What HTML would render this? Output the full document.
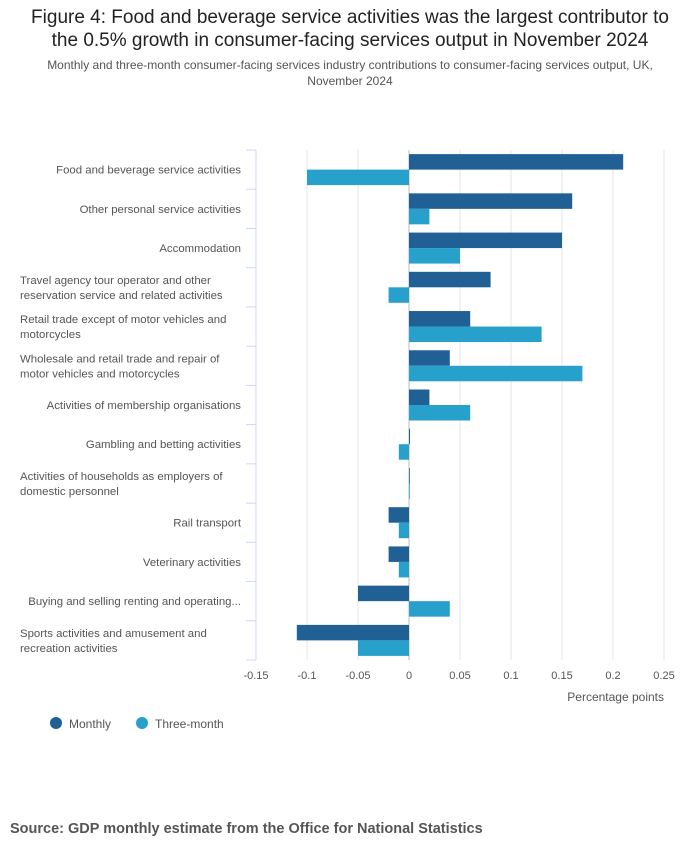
<!DOCTYPE html>
<html><head><meta charset="utf-8"><style>
body{margin:0;background:#fff;font-family:"Liberation Sans",sans-serif;}
#wrap{position:relative;width:700px;height:857px;overflow:hidden}
h1{position:absolute;top:6px;left:0;width:700px;text-align:center;font-size:19px;font-weight:normal;color:#222;margin:0;line-height:23px}
.sub{position:absolute;top:57px;left:0;width:700px;text-align:center;font-size:12px;color:#555;line-height:16px}
.src{position:absolute;top:821px;left:10px;font-size:14.5px;font-weight:bold;color:#555}
</style></head><body>
<div id="wrap">
<h1>Figure 4: Food and beverage service activities was the largest contributor to<br>the 0.5% growth in consumer-facing services output in November 2024</h1>
<div class="sub">Monthly and three-month consumer-facing services industry contributions to consumer-facing services output, UK,<br>November 2024</div>
<svg id="chart" width="700" height="760" style="position:absolute;top:0;left:0"></svg>
<div class="src">Source: GDP monthly estimate from the Office for National Statistics</div>
</div>
<script>
const categories=[["Food and beverage service activities"],["Other personal service activities"],["Accommodation"],["Travel agency tour operator and other","reservation service and related activities"],["Retail trade except of motor vehicles and","motorcycles"],["Wholesale and retail trade and repair of","motor vehicles and motorcycles"],["Activities of membership organisations"],["Gambling and betting activities"],["Activities of households as employers of","domestic personnel"],["Rail transport"],["Veterinary activities"],["Buying and selling renting and operating..."],["Sports activities and amusement and","recreation activities"]];
const monthly=[0.21,0.16,0.15,0.08,0.06,0.04,0.02,0.001,0.0005,-0.02,-0.02,-0.05,-0.11];
const threeMonth=[-0.10,0.02,0.05,-0.02,0.13,0.17,0.06,-0.01,0.0005,-0.01,-0.01,0.04,-0.05];
const ticks=[-0.15,-0.1,-0.05,0,0.05,0.1,0.15,0.2,0.25];
const tickLabels=["-0.15","-0.1","-0.05","0","0.05","0.1","0.15","0.2","0.25"];
const svg=document.getElementById('chart');const NS="http://www.w3.org/2000/svg";
const X0=256,X1=664,Y0=150,Y1=660;
const x=v=>X0+(v-ticks[0])/(ticks[ticks.length-1]-ticks[0])*(X1-X0);
const band=(Y1-Y0)/categories.length;
function mk(t,a,p){const e=document.createElementNS(NS,t);for(const k in a)e.setAttribute(k,a[k]);(p||svg).appendChild(e);return e;}
ticks.forEach((t,i)=>{
 const g=mk('line',{x1:x(t),x2:x(t),y1:Y0,y2:Y1,stroke:t===0?'#bbb':'#e6e6e6','stroke-width':1});
 
 
 const l=mk('text',{x:x(t),y:Y1+19,'text-anchor':'middle','font-size':11,fill:'#555'});l.textContent=tickLabels[i];
 
 
});
const ax=mk('line',{x1:X0,x2:X0,y1:Y0,y2:Y1,stroke:'#ccd6f6','stroke-width':1});


for(let i=0;i<=categories.length;i++){const tk=mk('line',{x1:X0-10,x2:X0,y1:Y0+i*band,y2:Y0+i*band,stroke:'#ccd6f6'});
 
 }
categories.forEach((c,i)=>{
 const cy=Y0+i*band+band/2;
 const t=mk('text',{'font-size':11.4,fill:'#555','text-anchor':c.length>1?'start':'end'});
 
 
 c.forEach((ln,j)=>{const s=mk('tspan',{x:c.length>1?20:241,y:cy+4+(j-(c.length-1)/2)*15},t);s.textContent=ln;});
 const bh=15.5;
 [[monthly[i],'#206095',cy-bh,'bar-monthly'],[threeMonth[i],'#27a0cc',cy,'bar-three-month']].forEach(([v,col,y,n])=>{
  const a=Math.min(x(0),x(v)),w=Math.max(Math.abs(x(v)-x(0)),0.8);
  const r=mk('rect',{x:a,y:y,width:w,height:bh,fill:col});
  
  
 });
});
const xt=mk('text',{x:664,y:701,'text-anchor':'end','font-size':12,fill:'#555'});xt.textContent="Percentage points";


[[56,'#206095','Monthly','legend-monthly'],[142,'#27a0cc','Three-month','legend-three-month']].forEach(([lx,col,lab,n])=>{
 const g=mk('g',{});
 
 
 mk('circle',{cx:lx,cy:723,r:6,fill:col},g);
 const t=mk('text',{x:lx+13,y:728,'font-size':12,fill:'#555'},g);t.textContent=lab;
});
</script>
</body></html>
